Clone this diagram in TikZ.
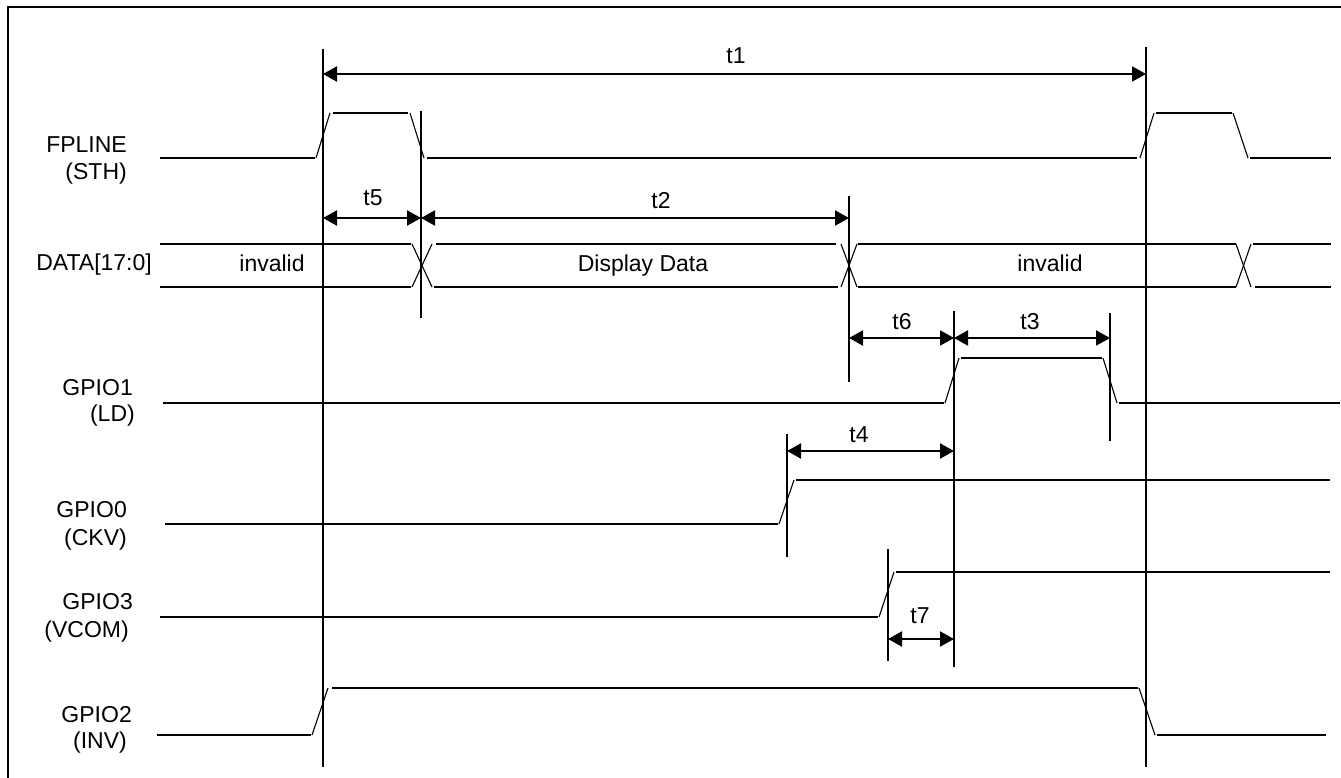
\documentclass[tikz,border=0pt]{standalone}
\usepackage{fontspec}
\setmainfont{Liberation Sans}
\usetikzlibrary{arrows.meta}
\begin{document}
\begin{tikzpicture}[x=1pt,y=-1pt,
  sig/.style={line width=2pt},
  edg/.style={line width=1.1pt},
  vline/.style={line width=2pt},
  dim/.style={line width=2pt,{Triangle[length=14pt,width=15pt]}-{Triangle[length=14pt,width=15pt]}},
  lbl/.style={font=\fontsize{23}{27}\selectfont, inner sep=0pt},
]
\useasboundingbox (0,0) rectangle (1341,778);
\draw[line width=1.6pt] (8,778) -- (8,7) -- (1341,7);

% signal names
\node[lbl, anchor=base east] (n1a) at (127,153) {FPLINE};
\node[lbl, anchor=base east] (n1b) at (127,180) {(STH)};
\node[lbl, anchor=base east] (n2) at (152,270) {DATA[17:0]};
\node[lbl, anchor=base east] (n3a) at (133,395) {GPIO1};
\node[lbl, anchor=base east] (n3b) at (135,421) {(LD)};
\node[lbl, anchor=base east] (n4a) at (127,517) {GPIO0};
\node[lbl, anchor=base east] (n4b) at (127,545) {(CKV)};
\node[lbl, anchor=base east] (n5a) at (133,609) {GPIO3};
\node[lbl, anchor=base east] (n5b) at (129,637) {(VCOM)};
\node[lbl, anchor=base east] (n6a) at (132,722) {GPIO2};
\node[lbl, anchor=base east] (n6b) at (127,748) {(INV)};

% vertical reference lines
\coordinate (v1t) at (323,49);  \coordinate (v1b) at (323,767);
\coordinate (v2t) at (421,111); \coordinate (v2b) at (421,318);
\coordinate (v3t) at (849,196); \coordinate (v3b) at (849,382);
\coordinate (v4t) at (954,311); \coordinate (v4b) at (954,667);
\coordinate (v5t) at (1110,313);\coordinate (v5b) at (1110,441);
\coordinate (v6t) at (1146,47); \coordinate (v6b) at (1146,767);
\coordinate (v7t) at (787,434); \coordinate (v7b) at (787,557);
\coordinate (v8t) at (888,549); \coordinate (v8b) at (888,661);
\foreach \v in {1,...,8} { \draw[vline] (v\v t) -- (v\v b); }

% FPLINE
\draw[sig] (160,158) -- (315,158);
\draw[edg] (316,158) -- (330,113);
\draw[sig] (333,113) -- (408,113);
\draw[edg] (410,113) -- (424,158);
\draw[sig] (427,158) -- (1137,158);
\draw[edg] (1140,158) -- (1154,113);
\draw[sig] (1156,113) -- (1232,113);
\draw[edg] (1233,113) -- (1248,158);
\draw[sig] (1250,158) -- (1331,158);

% DATA bus
\draw[sig] (160,244) -- (411,244);
\draw[sig] (160,287) -- (411,287);
\draw[edg] (412,244) -- (432,287);
\draw[edg] (412,287) -- (432,244);
\draw[sig] (436,244) -- (836,244);
\draw[sig] (434,287) -- (838,287);
\draw[edg] (841,244) -- (857,287);
\draw[edg] (841,287) -- (857,244);
\draw[sig] (858,244) -- (1236,244);
\draw[sig] (858,287) -- (1236,287);
\draw[edg] (1236,244) -- (1251,287);
\draw[edg] (1236,287) -- (1251,244);
\draw[sig] (1253,244) -- (1331,244);
\draw[sig] (1255,287) -- (1331,287);
\node[lbl, anchor=base] (d1) at (272,271) {invalid};
\node[lbl, anchor=base] (d2) at (643,271) {Display Data};
\node[lbl, anchor=base] (d3) at (1050,271) {invalid};

% GPIO1
\draw[sig] (163,403) -- (944,403);
\draw[edg] (945,403) -- (959,358);
\draw[sig] (961,358) -- (1102,358);
\draw[edg] (1103,358) -- (1117,403);
\draw[sig] (1119,403) -- (1340,403);

% GPIO0
\draw[sig] (165,524) -- (778,524);
\draw[edg] (779,524) -- (794,480);
\draw[sig] (796,480) -- (1330,480);

% GPIO3
\draw[sig] (160,617) -- (878,617);
\draw[edg] (879,617) -- (894,572);
\draw[sig] (896,572) -- (1330,572);

% GPIO2
\draw[sig] (157,735) -- (311,735);
\draw[edg] (312,735) -- (328,688);
\draw[sig] (332,688) -- (1138,688);
\draw[edg] (1139,688) -- (1155,735);
\draw[sig] (1157,735) -- (1326,735);

% dimension arrows
\coordinate (a1l) at (323,74);  \coordinate (a1r) at (1146,74);
\coordinate (a5l) at (323,218); \coordinate (a5r) at (421,218);
\coordinate (a2r) at (849,218);
\coordinate (a6l) at (849,338); \coordinate (a6r) at (954,338);
\coordinate (a3r) at (1110,338);
\coordinate (a4l) at (787,451); \coordinate (a4r) at (954,451);
\coordinate (a7l) at (888,639); \coordinate (a7r) at (954,639);
\draw[dim] (a1l) -- (a1r);
\draw[dim] (a5l) -- (a5r);
\draw[dim] (a5r) -- (a2r);
\draw[dim] (a6l) -- (a6r);
\draw[dim] (a6r) -- (a3r);
\draw[dim] (a4l) -- (a4r);
\draw[dim] (a7l) -- (a7r);

\node[lbl, anchor=base] (t1) at (736,64) {t1};
\node[lbl, anchor=base] (t5) at (373,206) {t5};
\node[lbl, anchor=base] (t2) at (661,208) {t2};
\node[lbl, anchor=base] (t6) at (902,329) {t6};
\node[lbl, anchor=base] (t3) at (1030,329) {t3};
\node[lbl, anchor=base] (t4) at (859,442) {t4};
\node[lbl, anchor=base] (t7) at (920,623) {t7};
\end{tikzpicture}
\end{document}
